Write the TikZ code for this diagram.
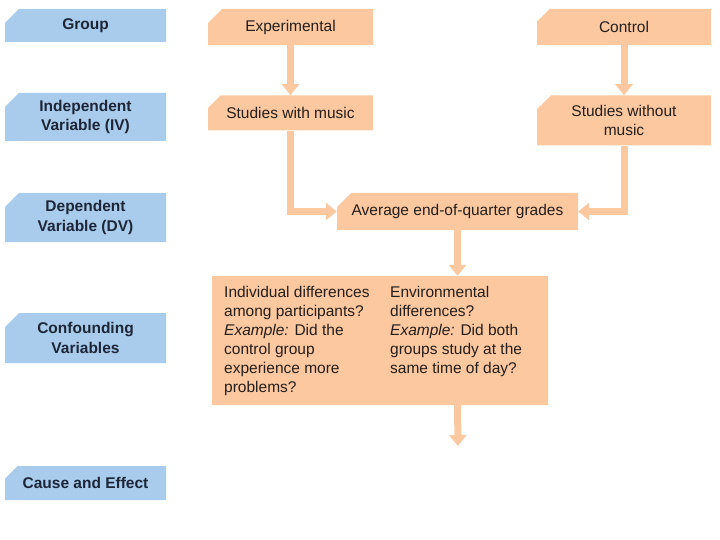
\documentclass[tikz,border=0pt]{standalone}
\usepackage{fontspec}
\setmainfont{Liberation Sans}
\usetikzlibrary{arrows.meta,positioning,shapes.misc}
\definecolor{peach}{RGB}{251,200,160}
\definecolor{sky}{RGB}{170,204,236}
\definecolor{ink}{RGB}{38,30,26}
\definecolor{navy}{RGB}{28,38,56}

\begin{document}
\begin{tikzpicture}[x=1pt, y=-1pt, node distance=50pt,
  >={Triangle[width=17pt,length=11pt]},
  cut/.style={chamfered rectangle, chamfered rectangle corners=north west,
              chamfered rectangle xsep=7pt, chamfered rectangle ysep=7pt,
              inner sep=0pt, align=center},
  lab/.style={cut, fill=sky, text=navy, minimum width=161pt,
              font=\bfseries\fontsize{15.5}{19.5}\selectfont},
  b/.style={cut, fill=peach, text=ink,
            font=\fontsize{15.5}{19.5}\selectfont},
  txt/.style={anchor=north west, inner sep=0pt, align=left, text=ink,
              font=\fontsize{15.5}{19}\selectfont},
  arr/.style={->, draw=peach, line width=7pt}]
\useasboundingbox (0,0) rectangle (720,540);
% row labels
\node[lab, minimum height=33pt] (grp) at (85.5,25.5) {Group};
\node[lab, minimum height=48pt] (iv) at (85.5,117) {Independent\\Variable (IV)};
\node[lab, minimum height=49pt] (dv) at (85.5,217.5) {Dependent\\Variable (DV)};
\node[lab, minimum height=50pt] (cv) at (85.5,338) {Confounding\\Variables};
\node[lab, minimum height=34pt] (ce) at (85.5,483) {Cause and Effect};
% the two groups
\node[b, minimum width=165pt, minimum height=36pt] (exp) at (290.5,27) {Experimental};
\node[b, minimum width=174pt, minimum height=36pt] (ctl) at (624,27) {Control};
\node[b, minimum width=165pt, minimum height=35pt, below=of exp] (swm) {Studies with music};
\node[b, minimum width=174pt, minimum height=50pt, below=of ctl] (swo) {Studies without\\music};
\node[b, minimum width=241pt, minimum height=37pt] (avg) at (457.5,211.5) {Average end-of-quarter grades};
\node[b, minimum width=336pt, minimum height=129pt] (conf) at (380,340.5) {};
\node[txt] (indiv) at ([shift={(12pt,-10.5pt)}]conf.north west)
  {Individual differences\\among participants?\\{\itshape Example:} Did the\\control group\\experience more\\problems?};
\node[txt] (envir) at ([shift={(178pt,-10.5pt)}]conf.north west)
  {Environmental\\differences?\\{\itshape Example:} Did both\\groups study at the\\same time of day?};
\coordinate (out) at (458,446);
\draw[arr] (exp.south) -- (swm.north);
\draw[arr] (ctl.south) -- (swo.north);
\draw[arr] (swm.south) |- (avg.west);
\draw[arr] (swo.south) |- (avg.east);
\draw[arr] (avg.south) -- (avg.south |- conf.north);
\draw[arr] (avg.south |- conf.south) -- (out);
\end{tikzpicture}
\end{document}
